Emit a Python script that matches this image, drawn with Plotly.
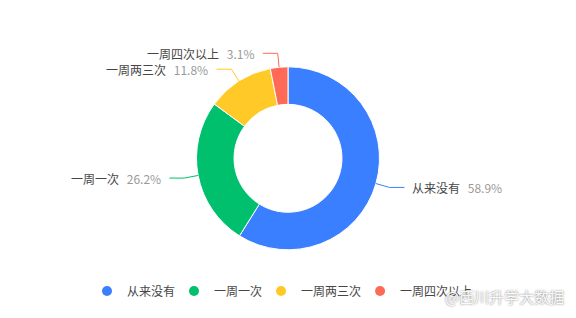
import math
import plotly.graph_objects as go

categories = ["从来没有", "一周一次", "一周两三次", "一周四次以上"]
values = [58.9, 26.2, 11.8, 3.1]
pct_labels = ["58.9%", "26.2%", "11.8%", "3.1%"]
colors = ["#3A7FFF", "#00C06D", "#FFCA28", "#FE6A55"]

W, H = 576, 318
CX, CY, R = 288, 158.3, 91.5
HOLE = 0.59
LEN1, LEN2, GAP = 14, 15, 6

def px(x):
    return x / W

def py(y):
    return 1 - y / H

fig = go.Figure()
fig.add_trace(go.Pie(
    labels=categories, values=values, sort=False, direction="clockwise",
    rotation=0, hole=HOLE, textinfo="none", showlegend=False,
    marker=dict(colors=colors, line=dict(color="white", width=1)),
    domain=dict(x=[px(CX - R), px(CX + R)], y=[py(CY + R), py(CY - R)]),
))

for name, col in zip(categories, colors):
    fig.add_trace(go.Scatter(
        x=[None], y=[None], mode="markers", name=name,
        marker=dict(symbol="circle", size=10, color=col),
    ))

total = sum(values)
cum = 0.0
shapes, annotations = [], []
for name, v, pl, col in zip(categories, values, pct_labels, colors):
    mid = (cum + v / 2) / total * 2 * math.pi
    cum += v
    dx, dy = math.sin(mid), -math.cos(mid)
    x0, y0 = CX + R * dx, CY + R * dy
    x1, y1 = CX + (R + LEN1) * dx, CY + (R + LEN1) * dy
    side = 1 if dx >= 0 else -1
    x2, y2 = x1 + side * LEN2, y1
    shapes.append(dict(
        type="path", xref="paper", yref="paper",
        path=f"M {px(x0)},{py(y0)} L {px(x1)},{py(y1)} L {px(x2)},{py(y2)}",
        line=dict(color=col, width=1),
    ))
    annotations.append(dict(
        xref="paper", yref="paper", x=px(x2 + side * GAP), y=py(y2),
        xanchor="left" if side > 0 else "right", yanchor="middle",
        text=f"{name}\u00a0\u2009\u00a0<span style='color:#9A9A9A'>{pl}</span>",
        showarrow=False, font=dict(size=12, color="#464646"),
    ))

annotations.append(dict(
    xref="paper", yref="paper", x=px(566), y=py(296),
    xanchor="right", yanchor="middle", text="@西川升学大数据",
    showarrow=False,
    font=dict(size=15, color="rgba(255,255,255,0.95)", shadow="0px 0px 2px #666"),
))

fig.update_layout(
    width=W, height=H,
    margin=dict(l=0, r=0, t=0, b=0),
    paper_bgcolor="white", plot_bgcolor="white",
    font=dict(family="Noto Sans CJK SC, sans-serif", size=12, color="#464646"),
    xaxis=dict(visible=False), yaxis=dict(visible=False),
    showlegend=True,
    legend=dict(orientation="h", x=px(93), xanchor="left", y=py(291), yanchor="middle",
                indentation=-6,
                font=dict(size=12, color="#464646"), itemclick=False),
    shapes=shapes, annotations=annotations,
)

fig.write_html("out.html")
